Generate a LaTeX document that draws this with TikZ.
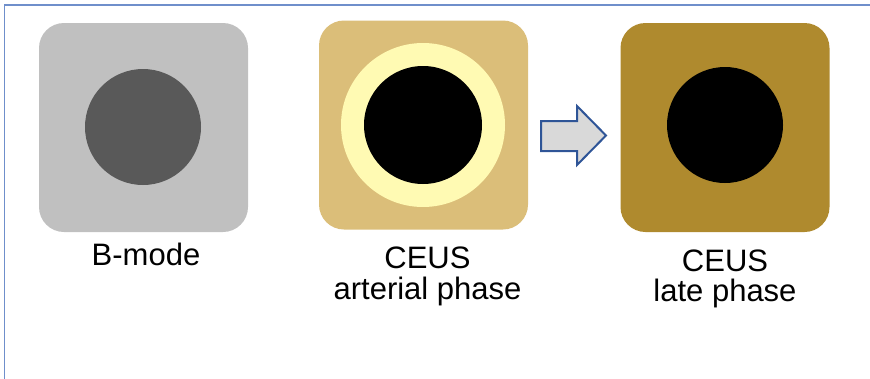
\documentclass[tikz,border=0pt]{standalone}
\usepackage{fontspec}
\setmainfont{Liberation Sans}
\usetikzlibrary{positioning}
\definecolor{framblue}{HTML}{6F8FCB}
\definecolor{bmodegray}{HTML}{C0C0C0}
\definecolor{lesiongray}{HTML}{595959}
\definecolor{arterialtan}{HTML}{DBBE79}
\definecolor{rimyellow}{HTML}{FFFAB3}
\definecolor{latebrown}{HTML}{AF8A2E}
\definecolor{arrowgray}{HTML}{D9D9D9}
\definecolor{arrowblue}{HTML}{2F5597}

\begin{document}
\begin{tikzpicture}[x=1pt, y=-1pt,
    tile/.style={rounded corners=25pt, minimum size=209pt, inner sep=0pt},
    blob/.style={circle, inner sep=0pt},
    caption/.style={font=\fontsize{31}{30.5}\selectfont, align=center, inner sep=0pt}]
    \useasboundingbox (0,0) rectangle (870,378);

    % Draw the frame
    \draw[framblue, line width=1.5pt] (4.5,390) -- (4.5,5) -- (880,5);

    % Draw the tiles
    \node[tile, fill=bmodegray] (bmode) at (143.5,127.5) {};
    \node[tile, fill=arterialtan] (arterial) at (423.5,125) {};
    \node[tile, fill=latebrown] (late) at (725,127.5) {};

    % Draw the lesions
    \node[blob, fill=lesiongray, minimum size=116pt] (bmodecore) at (143,127) {};
    \node[blob, fill=rimyellow, minimum size=164pt] (arterialrim) at (423,125) {};
    \node[blob, fill=black, minimum size=118pt] (arterialcore) at (arterialrim.center) {};
    \node[blob, fill=black, minimum size=116pt] (latecore) at (725,125) {};

    % Add captions
    \node[caption, anchor=base] (bmodetext) at (146,265) {B-mode};
    \node[caption, below=17pt of arterial, xshift=4pt] (arterialtext) {CEUS\\arterial phase};
    \node[caption, below=17pt of late] (latetext) {CEUS\\late phase};

    % Draw the arrow
    \draw[arrowblue, fill=arrowgray, line width=2pt, line join=miter]
        (541,121) -- (577,121) -- (577,106) -- (606,135.5) -- (577,165)
        -- (577,151) -- (541,151) -- cycle;
\end{tikzpicture}
\end{document}
